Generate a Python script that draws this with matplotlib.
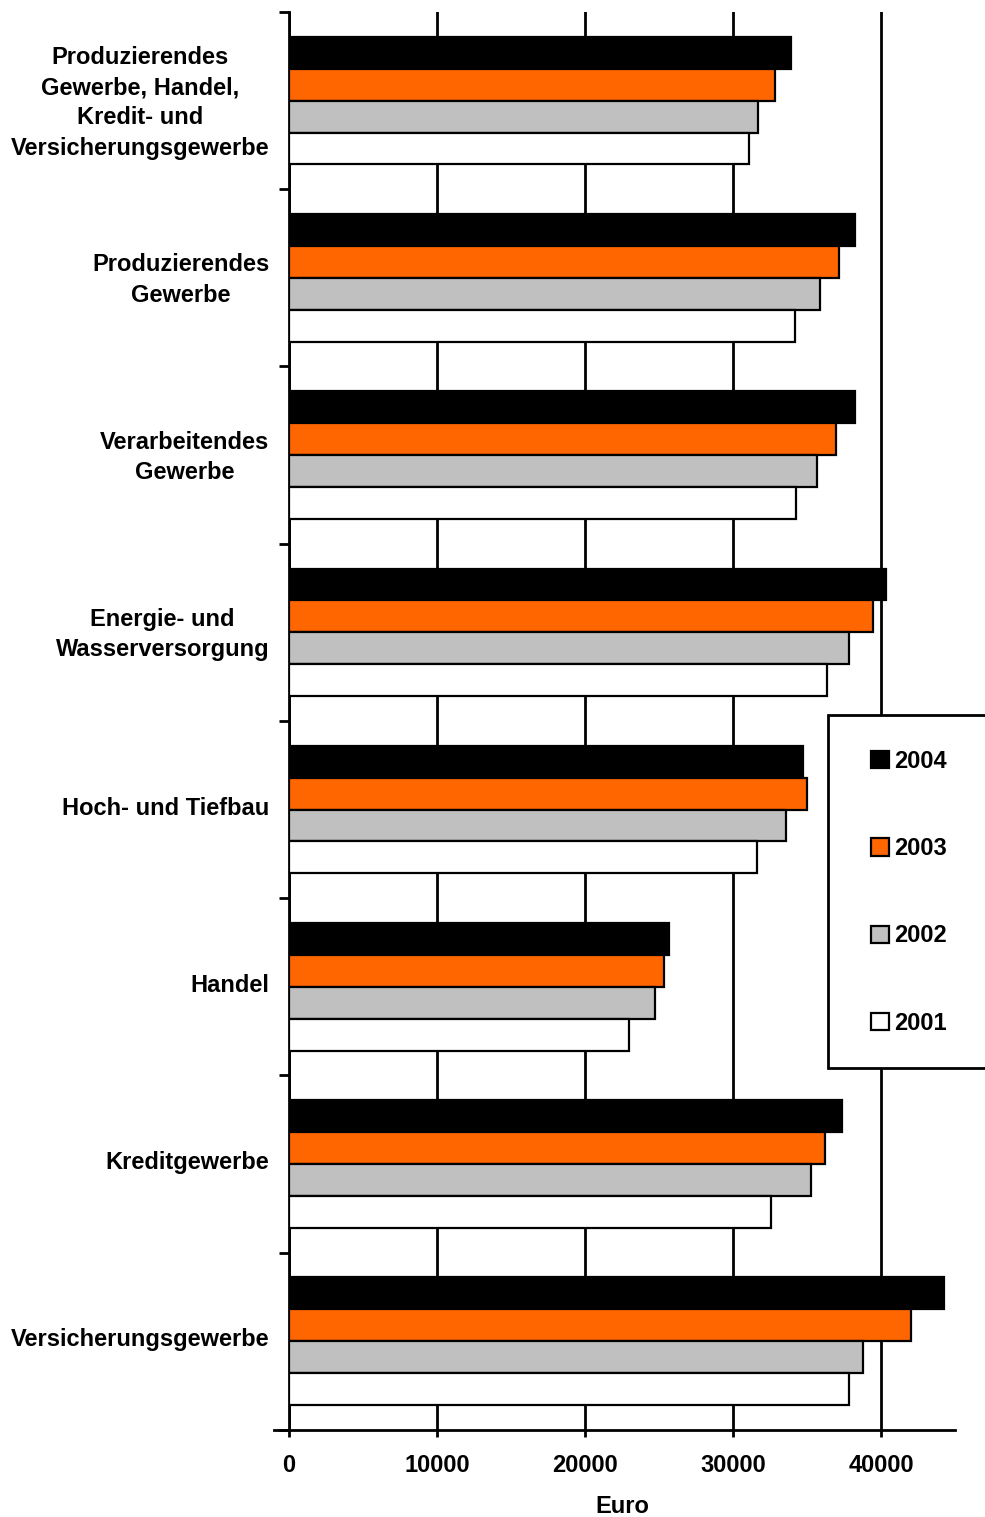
import matplotlib.pyplot as plt
import matplotlib.transforms as mtransforms
from matplotlib.patches import Rectangle
import numpy as np

plt.rcParams['font.family'] = ['Liberation Sans', 'DejaVu Sans']
plt.rcParams['font.weight'] = 'bold'

categories = ["Produzierendes\nGewerbe, Handel,\nKredit- und\nVersicherungsgewerbe",
              "Produzierendes\nGewerbe",
              "Verarbeitendes\nGewerbe",
              "Energie- und\nWasserversorgung",
              "Hoch- und Tiefbau",
              "Handel",
              "Kreditgewerbe",
              "Versicherungsgewerbe"]

years = ["2004", "2003", "2002", "2001"]
colors = ["#000000", "#FF6600", "#C0C0C0", "#FFFFFF"]

v2004 = [33900, 38250, 38250, 40350, 34750, 25700, 37350, 44250]
v2003 = [32850, 37150, 36950, 39450, 35000, 25350, 36250, 42050]
v2002 = [31700, 35850, 35650, 37850, 33600, 24700, 35300, 38800]
v2001 = [31100, 34200, 34250, 36350, 31600, 22950, 32550, 37850]
values = [v2004, v2003, v2002, v2001]

fig = plt.figure(figsize=(9.85, 15.17), dpi=100)
ax = fig.add_axes([0.2934, 0.0574, 0.9695 - 0.2934, 0.9921 - 0.0574])

y = np.arange(len(categories))
h = 0.18
for i, (yr, col, vals) in enumerate(zip(years, colors, values)):
    ax.barh(y + (i - 1.5) * h, vals, height=h, color=col, edgecolor="black",
            linewidth=1.6, label=yr, zorder=3)

ax.set_xlim(0, 45000)
ax.set_ylim(len(categories) - 0.5, -0.5)

ax.set_xticks([0, 10000, 20000, 30000, 40000])
ax.set_yticks(y)
ax.set_yticklabels(categories, fontsize=17, fontweight="bold", linespacing=1.41,
                   multialignment="center")
ax.set_yticks(np.arange(-0.5, len(categories)), minor=True)
ax.tick_params(axis="y", which="major", length=0, pad=14)
ax.tick_params(axis="y", which="minor", length=7, width=2, direction="out")
ax.tick_params(axis="x", which="major", length=5, width=2, direction="out",
               pad=12, labelsize=17)
for lab in ax.get_xticklabels():
    lab.set_fontweight("bold")

# nudge category labels up a little
shift = mtransforms.ScaledTranslation(0, 0.04, fig.dpi_scale_trans)
for lab in ax.get_yticklabels():
    lab.set_transform(lab.get_transform() + shift)

ax.set_xlabel("Euro", fontsize=17, fontweight="bold", labelpad=13)

ax.grid(axis="x", color="black", linewidth=2)
ax.set_axisbelow(True)

for s in ["top", "right"]:
    ax.spines[s].set_visible(False)
for s in ["left", "bottom"]:
    ax.spines[s].set_linewidth(2)
ax.spines["bottom"].set_bounds(-1000, 45000)

# legend box drawn by hand, runs off the right edge like the original
W, H = 985, 1517
box = Rectangle((828 / W, 1 - 1068 / H), 170 / W, 353 / H, transform=fig.transFigure,
                facecolor="white", edgecolor="black", linewidth=2, zorder=5)
fig.add_artist(box)

handles, labels = ax.get_legend_handles_labels()
leg = fig.legend(handles, labels, loc="upper left", bbox_to_anchor=(871 / W, 1 - 750 / H),
                 frameon=False, fontsize=17, handlelength=0.75, handleheight=0.75,
                 handletextpad=0.25, labelspacing=2.72, borderpad=0,
                 borderaxespad=0)
leg.set_zorder(6)
for t in leg.get_texts():
    t.set_fontweight("bold")

fig.savefig("out.png", dpi=100)
